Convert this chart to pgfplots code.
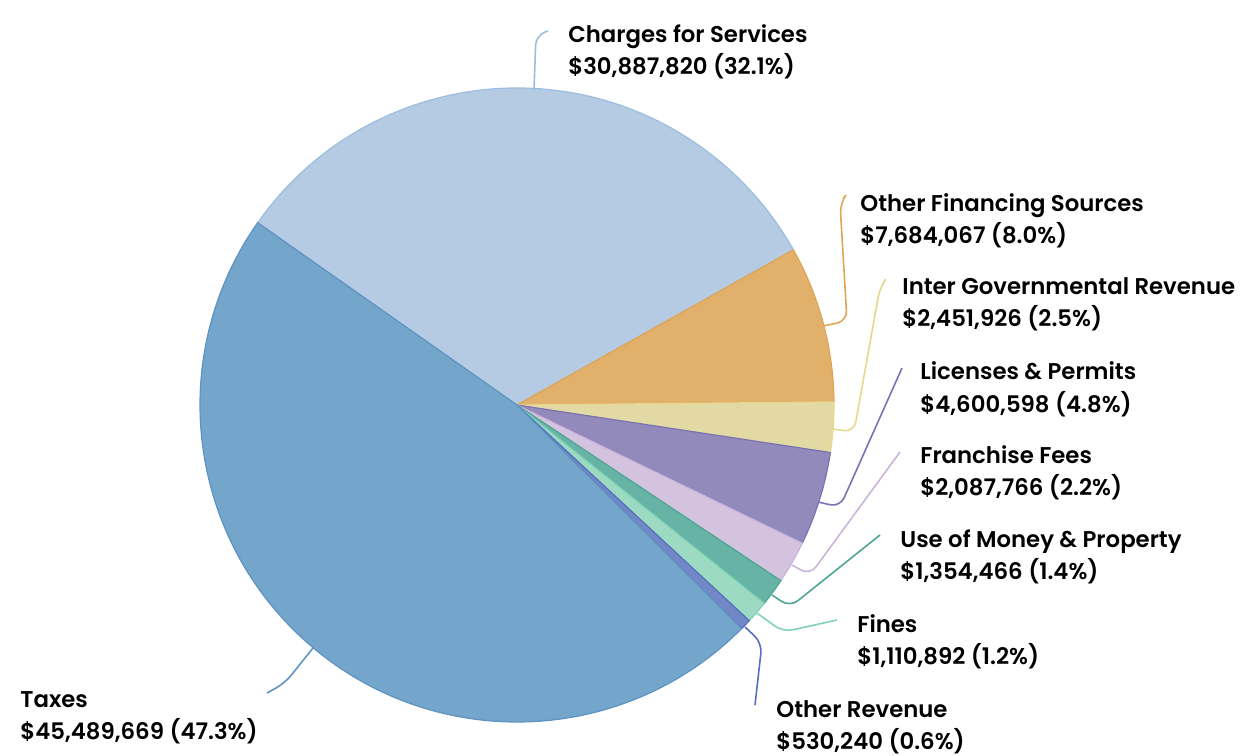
\documentclass[border=0pt]{standalone}
\usepackage{pgfplots}
\pgfplotsset{compat=1.18}
\usepgflibrary{fpu}
\usepackage{fontspec}
\setmainfont{Poppins}[BoldFont={Poppins SemiBold}]

\definecolor{charges}{HTML}{B4CBE3}   \definecolor{chargesL}{HTML}{9DBEDF}
\definecolor{taxes}{HTML}{74A5CA}     \definecolor{taxesL}{HTML}{5F93C2}
\definecolor{financing}{HTML}{E1B06B} \definecolor{financingL}{HTML}{E0A555}
\definecolor{intergov}{HTML}{E3D9A5}  \definecolor{intergovL}{HTML}{E8D88E}
\definecolor{licenses}{HTML}{918ABA}  \definecolor{licensesL}{HTML}{7A72B5}
\definecolor{franchise}{HTML}{D3C3DF} \definecolor{franchiseL}{HTML}{C9B4DC}
\definecolor{money}{HTML}{67B4A6}     \definecolor{moneyL}{HTML}{4EA595}
\definecolor{fines}{HTML}{9CDAC2}     \definecolor{finesL}{HTML}{7FD3B4}
\definecolor{otherrev}{HTML}{7287C6}  \definecolor{otherrevL}{HTML}{5670C0}

% revenue by source, in dollars
\def\vCharges{30887820}
\def\vFinancing{7684067}
\def\vIntergov{2451926}
\def\vLicenses{4600598}
\def\vFranchise{2087766}
\def\vMoney{1354466}
\def\vFines{1110892}
\def\vOtherRev{530240}
\def\vTaxes{45489669}

% slice boundaries (degrees), clockwise from the Charges/Taxes edge
\pgfkeys{/pgf/fpu=true,/pgf/fpu/output format=fixed}
\pgfmathsetmacro\tot{\vCharges+\vFinancing+\vIntergov+\vLicenses+\vFranchise+\vMoney+\vFines+\vOtherRev+\vTaxes}
\pgfmathsetmacro\aA{144.9}
\pgfmathsetmacro\aB{\aA-360*\vCharges/\tot}
\pgfmathsetmacro\aC{\aB-360*\vFinancing/\tot}
\pgfmathsetmacro\aD{\aC-360*\vIntergov/\tot}
\pgfmathsetmacro\aE{\aD-360*\vLicenses/\tot}
\pgfmathsetmacro\aF{\aE-360*\vFranchise/\tot}
\pgfmathsetmacro\aG{\aF-360*\vMoney/\tot}
\pgfmathsetmacro\aH{\aG-360*\vFines/\tot}
\pgfmathsetmacro\aI{\aH-360*\vOtherRev/\tot}
\pgfmathsetmacro\aJ{\aI-360*\vTaxes/\tot}
\pgfkeys{/pgf/fpu=false}

\newcommand\pieslice[3]{%
  \filldraw[fill=#3, draw=#3L, line width=0.6pt]
    (axis cs:517,350) -- ++(#1:158.5pt) arc[start angle=#1, end angle=#2, radius=158.5pt] -- cycle;}
\newcommand\lbl[4]{%
  \node[anchor=base west, inner sep=0pt, font=\fontsize{11.4}{13}\selectfont\bfseries] at (axis cs:#1,#2) {#3};
  \node[anchor=base west, inner sep=0pt, font=\fontsize{11.4}{13}\selectfont\bfseries] at (axis cs:#1,{#2-32}) {#4};}

\begin{document}
\begin{tikzpicture}
\begin{axis}[
    width=622pt, height=377.5pt,
    scale only axis,
    hide axis,
    clip=false,
    xmin=0, xmax=1244,
    ymin=0, ymax=755,
]
\path (axis cs:0,0) rectangle (axis cs:1244,755);
\pieslice{\aA}{\aB}{charges}
\pieslice{\aB}{\aC}{financing}
\pieslice{\aC}{\aD}{intergov}
\pieslice{\aD}{\aE}{licenses}
\pieslice{\aE}{\aF}{franchise}
\pieslice{\aF}{\aG}{money}
\pieslice{\aG}{\aH}{fines}
\pieslice{\aH}{\aI}{otherrev}
\pieslice{\aI}{\aJ}{taxes}

% leader lines
\begin{scope}[line width=0.8pt, rounded corners=5pt]
\draw[chargesL]   (axis cs:534,665) -- (axis cs:536,720) -- (axis cs:548,724);
\draw[financingL] (axis cs:823,429) -- (axis cs:847,434) -- (axis cs:840,552) -- (axis cs:843,556);
\draw[intergovL]  (axis cs:833,326) -- (axis cs:854,323) -- (axis cs:880,468) -- (axis cs:883,472);
\draw[licensesL]  (axis cs:818,253) -- (axis cs:840,248) -- (axis cs:902,387);
\draw[franchiseL] (axis cs:792,190) -- (axis cs:810,180) -- (axis cs:900,303);
\draw[moneyL]     (axis cs:772,160) -- (axis cs:790,148) -- (axis cs:880,220);
\draw[finesL]     (axis cs:757,142) -- (axis cs:783,123) -- (axis cs:837,135);
\draw[otherrevL]  (axis cs:745,128) -- (axis cs:762,112) -- (axis cs:755,50);
\draw[taxesL]     (axis cs:313,107) -- (axis cs:285,72) -- (axis cs:267,62);
\end{scope}

\lbl{568}{712}{Charges for Services}{\$30,887,820 (32.1\%)}
\lbl{860}{543}{Other Financing Sources}{\$7,684,067 (8.0\%)}
\lbl{902}{460}{Inter Governmental Revenue}{\$2,451,926 (2.5\%)}
\lbl{920}{375}{Licenses \& Permits}{\$4,600,598 (4.8\%)}
\lbl{920}{292}{Franchise Fees}{\$2,087,766 (2.2\%)}
\lbl{900}{208}{Use of Money \& Property}{\$1,354,466 (1.4\%)}
\lbl{857}{123}{Fines}{\$1,110,892 (1.2\%)}
\lbl{776}{38}{Other Revenue}{\$530,240 (0.6\%)}
\lbl{20}{48}{Taxes}{\$45,489,669 (47.3\%)}
\end{axis}
\end{tikzpicture}
\end{document}
